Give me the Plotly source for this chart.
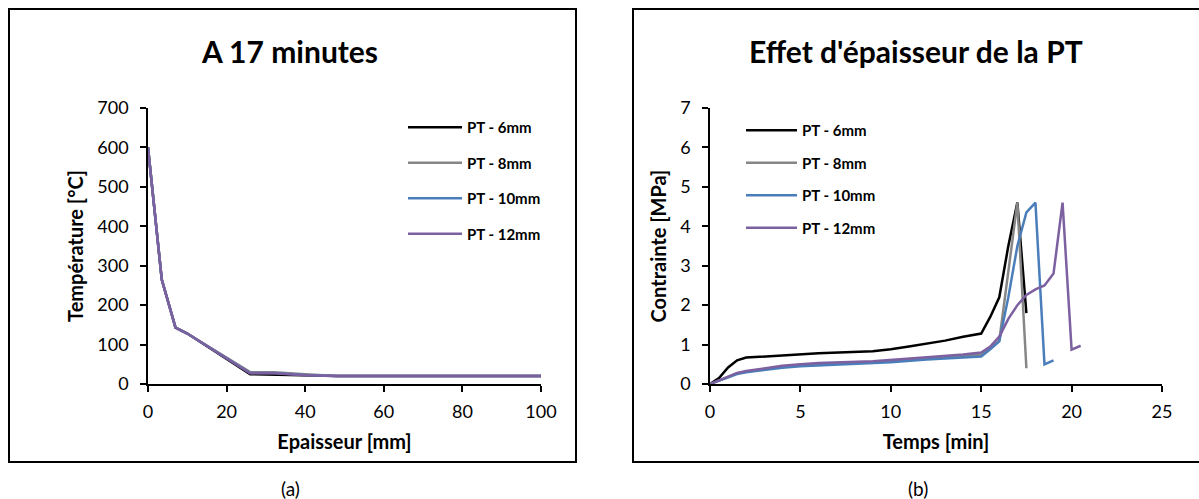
import plotly.graph_objects as go

W, H = 1199, 499

# ---- Panel (a): temperature profile at 17 min ----
ep_mm = [0, 3.5, 7, 10, 26, 32, 40, 48, 60, 80, 100]
temp_6 = [600, 265, 143, 128, 25, 24, 22, 20, 20, 20, 20]
temp_8 = [600, 265, 143, 128, 30, 30, 25, 20, 20, 20, 20]
temp_10 = [600, 265, 143, 128, 28, 28, 23, 20, 20, 20, 20]
temp_12 = [600, 265, 143, 128, 27, 27, 22, 20, 20, 20, 20]

# ---- Panel (b): stress vs time ----
t_6 = [0, 0.5, 1, 1.5, 2, 3, 5, 6, 9, 10, 11, 12, 13, 14, 15, 15.5, 16, 16.5, 17, 17.5]
c_6 = [0, 0.15, 0.42, 0.6, 0.67, 0.7, 0.76, 0.78, 0.83, 0.88, 0.95, 1.02, 1.1, 1.2, 1.28, 1.7, 2.2, 3.5, 4.6, 1.8]
t_8 = [0, 1, 1.5, 2, 3, 4, 5, 6, 9, 10, 12, 14, 15, 15.5, 16, 17, 17.5]
c_8 = [0, 0.19, 0.27, 0.31, 0.38, 0.43, 0.47, 0.5, 0.55, 0.58, 0.65, 0.71, 0.74, 0.9, 1.1, 4.6, 0.4]
t_10 = [0, 1, 1.5, 2, 3, 4, 5, 6, 9, 10, 12, 14, 15, 15.5, 16, 16.5, 17, 17.5, 18, 18.5, 19]
c_10 = [0, 0.18, 0.25, 0.3, 0.36, 0.41, 0.45, 0.47, 0.52, 0.55, 0.62, 0.68, 0.7, 0.88, 1.08, 2.2, 3.5, 4.35, 4.6, 0.5, 0.6]
t_12 = [0, 1, 1.5, 2, 3, 4, 5, 6, 9, 10, 12, 14, 15, 15.5, 16, 16.5, 17, 17.5, 18, 18.5, 19, 19.5, 20, 20.5]
c_12 = [0, 0.2, 0.28, 0.33, 0.4, 0.46, 0.5, 0.53, 0.58, 0.61, 0.68, 0.75, 0.8, 0.95, 1.2, 1.65, 2.0, 2.26, 2.4, 2.5, 2.8, 4.6, 0.87, 0.97]

names = ["PT - 6mm", "PT - 8mm", "PT - 10mm", "PT - 12mm"]
colors = ["#000000", "#868686", "#4A7EBB", "#7D60A0"]

FONT = "Lato"

fig = go.Figure()

for name, col, y in zip(names, colors, [temp_6, temp_8, temp_10, temp_12]):
    fig.add_trace(go.Scatter(x=ep_mm, y=y, mode="lines", name=name,
                             line=dict(color=col, width=2.5),
                             xaxis="x", yaxis="y", legend="legend",
                             legendgroup="a" + name))

for name, col, (x, y) in zip(names, colors, [(t_6, c_6), (t_8, c_8), (t_10, c_10), (t_12, c_12)]):
    fig.add_trace(go.Scatter(x=x, y=y, mode="lines", name=name,
                             line=dict(color=col, width=2.5),
                             xaxis="x2", yaxis="y2", legend="legend2",
                             legendgroup="b" + name))

def px(v):
    return v / W

def py(v):
    return 1 - v / H

axis_common = dict(showgrid=False, zeroline=False, showline=True, linecolor="black",
                   linewidth=1.5, ticks="outside", ticklen=6, tickwidth=1.5, automargin=False,
                   tickcolor="black", tickfont=dict(family=FONT, size=18, color="black"))

title_font = dict(family=FONT, size=20, color="black")
legend_font = dict(family=FONT, size=15, color="black", weight="bold")

fig.update_layout(
    template="none",
    width=W, height=H,
    margin=dict(l=0, r=0, t=0, b=0, pad=0, autoexpand=False),
    paper_bgcolor="white", plot_bgcolor="white",
    showlegend=True,
    xaxis=dict(domain=[px(148), px(541)], range=[0, 100], dtick=20, anchor="y",
               title=dict(text="<b>Epaisseur [mm]</b>", font=title_font, standoff=14),
               ticklabelstandoff=5, **axis_common),
    yaxis=dict(domain=[py(384), py(108)], range=[0, 700], dtick=100, anchor="x",
               title=dict(text="<b>Température [°C]</b>", font=title_font, standoff=8),
               ticklabelstandoff=8, **axis_common),
    xaxis2=dict(domain=[px(710), px(1162)], range=[0, 25], dtick=5, anchor="y2",
                title=dict(text="<b>Temps [min]</b>", font=title_font, standoff=14),
                ticklabelstandoff=5, **axis_common),
    yaxis2=dict(domain=[py(384), py(108)], range=[0, 7], dtick=1, anchor="x2",
                title=dict(text="<b>Contrainte [MPa]</b>", font=title_font, standoff=8),
                ticklabelstandoff=8, **axis_common),
    legend=dict(x=px(403), y=py(111), xanchor="left", yanchor="top",
                bgcolor="rgba(0,0,0,0)", traceorder="grouped", tracegroupgap=13,
                font=legend_font, itemwidth=54),
    legend2=dict(x=px(741), y=py(114), xanchor="left", yanchor="top",
                 bgcolor="rgba(0,0,0,0)", traceorder="grouped", tracegroupgap=10,
                 font=legend_font, itemwidth=51),
    shapes=[
        dict(type="rect", xref="paper", yref="paper", x0=px(9), x1=px(576), y0=py(462), y1=py(9),
             line=dict(color="black", width=2), layer="below"),
        dict(type="rect", xref="paper", yref="paper", x0=px(633), x1=px(1215), y0=py(462), y1=py(9),
             line=dict(color="black", width=2), layer="below"),
    ],
    annotations=[
        dict(text="<b>A 17 minutes</b>", x=px(289), y=py(51), xref="paper", yref="paper",
             xanchor="center", yanchor="middle",
             showarrow=False, font=dict(family=FONT, size=30, color="black")),
        dict(text="<b>Effet d'épaisseur de la PT</b>", x=px(916), y=py(51), xref="paper", yref="paper",
             xanchor="center", yanchor="middle",
             showarrow=False, font=dict(family=FONT, size=30, color="black")),
        dict(text="(a)", x=px(290), y=py(488), xref="paper", yref="paper",
             xanchor="center", yanchor="middle",
             showarrow=False, font=dict(family=FONT, size=19, color="black")),
        dict(text="(b)", x=px(918), y=py(488), xref="paper", yref="paper",
             xanchor="center", yanchor="middle",
             showarrow=False, font=dict(family=FONT, size=19, color="black")),
    ],
)

fig.write_html("out.html", config={"displayModeBar": False},
               post_script="document.body.style.margin='0';document.body.style.overflow='hidden';")
